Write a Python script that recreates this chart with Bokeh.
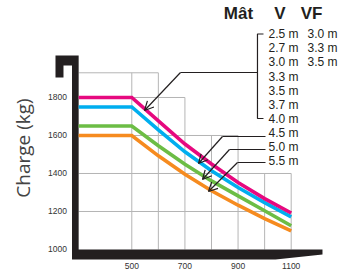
import math
from bokeh.plotting import figure
from bokeh.models import Range1d, Arrow, OpenHead
from bokeh.core.properties import value
from bokeh.embed import file_html
from bokeh.resources import INLINE

# ---- data ----
reach = [300, 500, 600, 700, 800, 900, 1000, 1100]
load_pink = [1800, 1800, 1677, 1555, 1450, 1353, 1268, 1192]
load_blue = [1750, 1750, 1630, 1514, 1414, 1326, 1247, 1172]
load_green = [1650, 1650, 1546, 1449, 1361, 1282, 1204, 1125]
load_orange = [1600, 1600, 1493, 1396, 1309, 1233, 1163, 1098]

y_ticks = [1000, 1200, 1400, 1600, 1800]
x_ticks = [500, 700, 900, 1100]

header = ["Mât", "V", "VF"]
col_v = ["2.5 m", "2.7 m", "3.0 m", "3.3 m", "3.5 m", "3.7 m", "4.0 m", "4.5 m", "5.0 m", "5.5 m"]
col_vf = ["3.0 m", "3.3 m", "3.5 m"]

INK = "#231f20"
GRID = "#b5b5b5"
FONT = value("Liberation Sans")

p = figure(width=340, height=272, x_range=Range1d(5.8, 1285.6), y_range=Range1d(878.9, 2310.5),
           output_backend="svg", toolbar_location=None, min_border=0,
           x_axis_type=None, y_axis_type=None)
p.grid.visible = False
p.outline_line_color = None
p.background_fill_color = "white"

# ---- stepped grid ----
hx0 = [300, 300, 300, 300, 300]
hx1 = [600, 700, 900, 1100, 1100]
hy = [1930, 1800, 1600, 1400, 1200]
p.segment(x0=hx0, y0=hy, x1=hx1, y1=hy, line_color=GRID, line_width=1)
vx = [500, 600, 700, 800, 900, 1000, 1100]
vtop = [1930, 1930, 1800, 1600, 1600, 1400, 1400]
p.segment(x0=vx, y0=[1000] * len(vx), x1=vx, y1=vtop, line_color=GRID, line_width=1)

# ---- black frame with hook ----
fx = [212.8, 300, 300, 1217.8, 1217.8, 1041.0, 275.0, 275.0, 242.9, 242.9, 212.8]
fy = [2021, 2021, 1000, 1000, 973.7, 947.4, 947.4, 1968.4, 1968.4, 1905.3, 1905.3]
p.patch(fx, fy, fill_color=INK, line_color=None)

# ---- curves ----
for ys, c in [(load_orange, "#f68b1f"), (load_green, "#6cbd45"),
              (load_blue, "#00aeef"), (load_pink, "#e6097f")]:
    p.line(reach, ys, line_color=c, line_width=3.6, line_join="miter", line_cap="butt")

# ---- tick labels ----
p.text(x=[256] * len(y_ticks), y=y_ticks, text=[str(t) for t in y_ticks],
       text_font=FONT, text_font_size="8.5px", text_color="#333333",
       text_align="right", text_baseline="middle")
p.text(x=x_ticks, y=[910.5] * len(x_ticks), text=[str(t) for t in x_ticks],
       text_font=FONT, text_font_size="8.5px", text_color="#333333",
       text_align="center", text_baseline="middle")

# axis title
p.text(x=[90.5], y=[1534], text=["Charge (kg)"], angle=math.pi / 2,
       text_font=value("Open Sans"), text_font_size="19px", text_color="#444444",
       text_align="center", text_baseline="middle")

# ---- legend-like labels ----
p.text(x=[901.6, 1057.8, 1176.4], y=[2244.7] * 3, text=header,
       text_font=FONT, text_font_size="17px", text_font_style="bold",
       text_color=INK, text_align="center", text_baseline="middle")
row_y = [2132.6 - 74.2 * i for i in range(len(col_v))]
p.text(x=[1014.6] * len(col_v), y=row_y, text=col_v,
       text_font=FONT, text_font_size="12px", text_color=INK,
       text_align="left", text_baseline="middle")
p.text(x=[1161.4] * len(col_vf), y=row_y[:len(col_vf)], text=col_vf,
       text_font=FONT, text_font_size="12px", text_color=INK,
       text_align="left", text_baseline="middle")

# bracket
p.line([995.7, 973.1, 973.1, 995.7], [2134.2, 2134.2, 1689.5, 1689.5], line_color=INK, line_width=1.2)
p.line([973.1, 683.3], [1931.6, 1931.6], line_color=INK, line_width=1.2)
p.add_layout(Arrow(end=OpenHead(size=9, line_width=1.2, line_color=INK),
                   x_start=683.3, y_start=1931.6, x_end=547.8, y_end=1731.6,
                   line_color=INK, line_width=1.2))

# leader arrows
leaders = [((1003.3, 841.4, 751.1), (1594.7, 1452.6)),
           ((1003.3, 867.7, 766.1), (1526.3, 1368.4)),
           ((1003.3, 897.9, 788.7), (1457.9, 1305.3))]
for (xa, xb, xt), (ya, yt) in leaders:
    p.line([xa, xb], [ya, ya], line_color=INK, line_width=1.2)
    p.add_layout(Arrow(end=OpenHead(size=9, line_width=1.2, line_color=INK),
                       x_start=xb, y_start=ya, x_end=xt, y_end=yt,
                       line_color=INK, line_width=1.2))

open("out.html", "w").write(file_html(p, INLINE))
